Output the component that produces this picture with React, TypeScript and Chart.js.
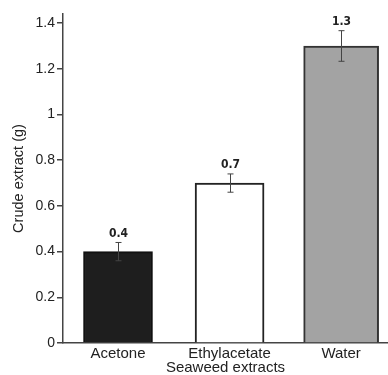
import React, { useEffect, useRef } from "react";
import { Chart, registerables } from "chart.js";

Chart.register(...registerables);

const categories = ["Acetone", "Ethylacetate", "Water"];
const values = [0.4, 0.7, 1.3];
const errors = [0.04, 0.04, 0.067];
const yTicks = [0, 0.2, 0.4, 0.6, 0.8, 1, 1.2, 1.4];
const yTitle = "Crude extract (g)";
const xTitle = "Seaweed extracts";

const barFills = ["#1e1e1e", "#ffffff", "#a3a3a3"];
const barBorders = ["#111111", "#222222", "#333333"];
const barWidths = [69, 69, 75];

const labelFont = "Liberation Sans, Arial, sans-serif";

const errorPlugin = {
  id: "errorBarsAndLabels",
  afterDatasetsDraw(chart: any) {
    const { ctx, scales } = chart;
    const x = scales.x;
    const y = scales.y;
    ctx.save();
    values.forEach((v, i) => {
      const cx = Math.round(x.getPixelForValue(i)) + 0.5;
      const top = y.getPixelForValue(v + errors[i]);
      const bot = y.getPixelForValue(v - errors[i]);
      ctx.strokeStyle = "#444";
      ctx.lineWidth = 1;
      ctx.beginPath();
      ctx.moveTo(cx, top);
      ctx.lineTo(cx, bot);
      ctx.moveTo(cx - 3, top);
      ctx.lineTo(cx + 3, top);
      ctx.moveTo(cx - 3, bot);
      ctx.lineTo(cx + 3, bot);
      ctx.stroke();
      ctx.fillStyle = "#222";
      ctx.font = 'bold 12px "DejaVu Sans Condensed", "DejaVu Sans", sans-serif';
      ctx.textAlign = "center";
      ctx.textBaseline = "middle";
      ctx.fillText(String(v), cx, top - 9);
    });
    ctx.restore();
  },
};

export default function App() {
  const ref = useRef<HTMLCanvasElement>(null);
  useEffect(() => {
    if (!ref.current) return;
    const chart = new Chart(ref.current, {
      type: "bar",
      data: {
        datasets: categories.map((c, i) => ({
          label: c,
          data: [{ x: i, y: values[i] }],
          backgroundColor: barFills[i],
          borderColor: barBorders[i],
          borderWidth: 2,
          barThickness: barWidths[i],
          grouped: false,
        })) as any,
      },
      options: {
        responsive: false,
        animation: false,
        layout: { padding: { top: 14, left: 0, right: 0, bottom: 0 } },
        plugins: { legend: { display: false }, tooltip: { enabled: false } },
        scales: {
          x: {
            type: "linear",
            offset: false,
            min: -0.493,
            max: 2.42,
            afterBuildTicks: (scale: any) => {
              scale.ticks = categories.map((_, i) => ({ value: i }));
            },
            afterFit: (scale: any) => {
              scale.height = 32;
            },
            grid: { display: false, drawTicks: false, offset: false },
            border: { display: true, color: "#444", width: 1.5 },
            ticks: {
              padding: 2,
              color: "#222",
              font: { family: labelFont, size: 15 },
              callback: (v: any) => categories[Math.round(Number(v))] ?? "",
            },
            title: {
              display: true,
              text: xTitle,
              color: "#222",
              font: { family: labelFont, size: 15, lineHeight: 1 },
              padding: { top: 0, bottom: 0 },
            },
          },
          y: {
            min: 0,
            max: 1.44,
            afterBuildTicks: (scale: any) => {
              scale.ticks = yTicks.map((v) => ({ value: v }));
            },
            afterFit: (scale: any) => {
              scale.width = 63;
            },
            grid: {
              drawOnChartArea: false,
              drawTicks: true,
              tickLength: 6,
              color: "#444",
              lineWidth: 1.5,
            },
            border: { display: true, color: "#444", width: 1.5 },
            ticks: {
              padding: 2,
              color: "#222",
              font: { family: labelFont, size: 14 },
              callback: (v: any) => String(Math.round(Number(v) * 10) / 10),
            },
            title: {
              display: true,
              text: yTitle,
              color: "#222",
              font: { family: labelFont, size: 14.5 },
              padding: { top: 10, bottom: 0 },
            },
          },
        },
      },
      plugins: [errorPlugin],
    });
    return () => chart.destroy();
  }, []);
  return (
    <canvas
      ref={ref}
      width={388}
      height={375}
      style={{ position: "absolute", left: 0, top: 0, width: 388, height: 375 }}
    />
  );
}
